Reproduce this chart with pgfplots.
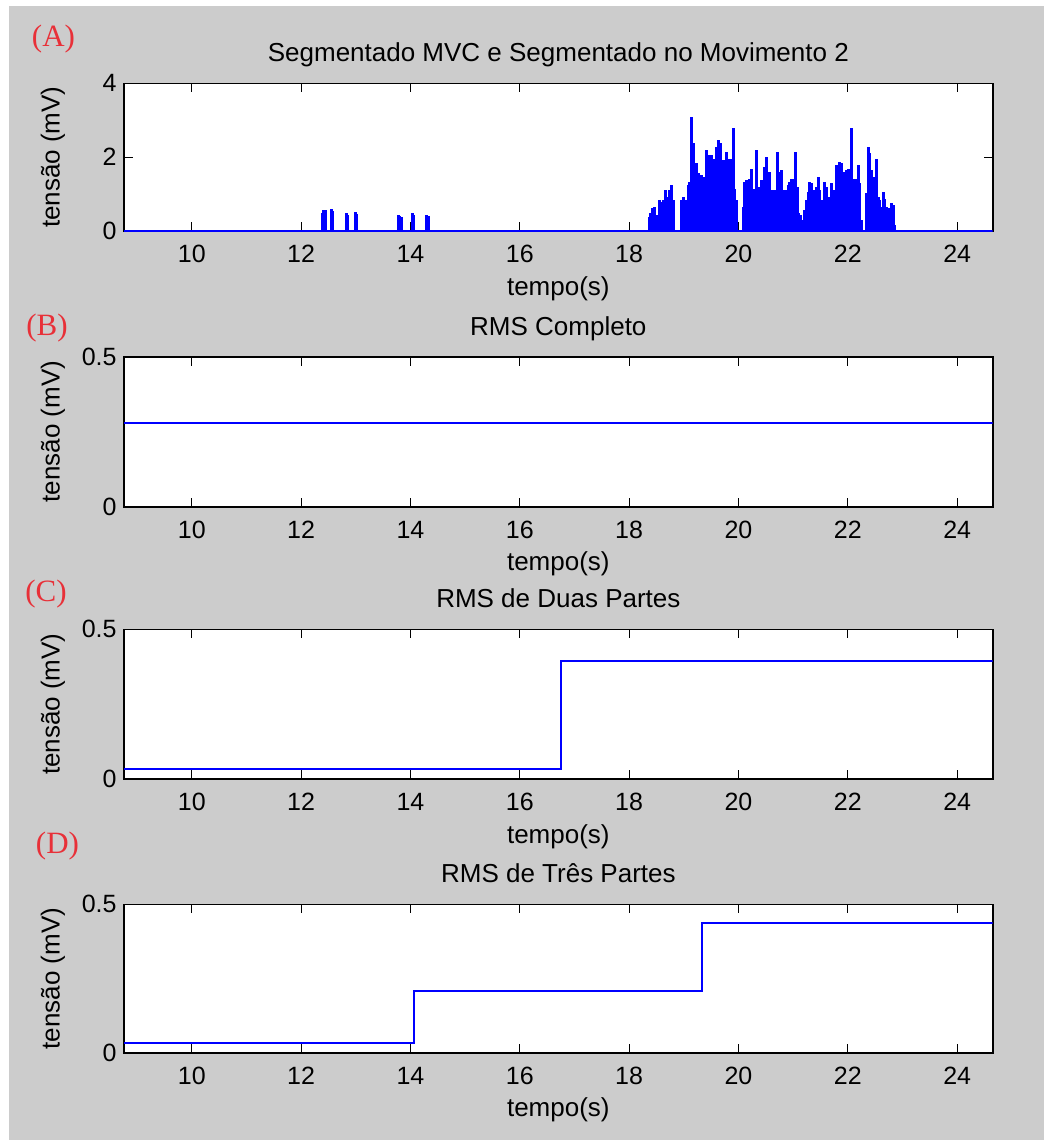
\documentclass[border=0pt]{standalone}
\usepackage{fontspec}
\setmainfont{Liberation Sans}
\newfontfamily\panelfont{Liberation Serif}
\usepackage{pgfplots}
\pgfplotsset{compat=1.18}
\usepackage{pgfplotstable}

\definecolor{figbg}{RGB}{204,204,204}
\definecolor{panelred}{RGB}{232,48,56}
\definecolor{sigblue}{RGB}{0,0,255}

% EMG envelope of the movement segment: time (s) and amplitude (mV)
\pgfplotstableread{
x y
12.40 0.50
12.42 0.56
12.44 0.58
12.56 0.60
12.58 0.55
12.83 0.50
12.85 0.44
13.00 0.52
13.02 0.45
13.78 0.43
13.80 0.40
13.83 0.38
14.04 0.50
14.06 0.44
14.30 0.44
14.32 0.40
18.368 0.39
18.398 0.48
18.429 0.61
18.459 0.66
18.490 0.43
18.520 0.34
18.551 0.84
18.593 0.79
18.636 0.84
18.672 1.11
18.715 0.93
18.746 1.11
18.776 1.24
18.807 0.84
18.959 0.84
18.989 0.93
19.032 0.84
19.081 1.24
19.111 1.33
19.142 3.10
19.172 2.37
19.203 1.78
19.233 1.83
19.264 1.56
19.294 1.11
19.325 1.51
19.355 1.38
19.386 1.47
19.416 2.19
19.446 2.05
19.477 1.65
19.507 2.05
19.538 1.96
19.568 1.74
19.599 2.28
19.629 2.46
19.660 2.37
19.690 1.74
19.721 1.92
19.751 1.65
19.782 2.14
19.812 1.65
19.843 1.96
19.873 1.56
19.904 2.78
19.934 1.15
19.965 0.84
20.086 0.66
20.117 1.33
20.147 1.38
20.178 1.33
20.208 1.42
20.239 1.69
20.269 1.15
20.300 0.93
20.330 2.19
20.361 0.75
20.391 1.20
20.422 1.38
20.452 1.20
20.483 1.74
20.513 2.00
20.544 1.02
20.574 1.60
20.604 1.11
20.635 0.97
20.665 1.11
20.708 2.14
20.745 1.60
20.787 1.65
20.818 1.11
20.848 1.11
20.879 1.11
20.909 1.24
20.940 1.33
20.970 1.42
21.001 1.02
21.031 1.42
21.049 2.14
21.074 1.20
21.104 0.48
21.135 0.43
21.165 0.30
21.214 0.57
21.244 0.84
21.275 1.06
21.305 1.33
21.336 1.29
21.366 1.11
21.397 0.84
21.427 1.20
21.458 1.47
21.488 1.11
21.519 0.84
21.549 0.61
21.580 1.33
21.610 1.20
21.641 0.84
21.671 0.93
21.702 1.29
21.732 1.06
21.763 1.11
21.793 1.78
21.823 1.29
21.854 1.87
21.884 1.83
21.915 1.42
21.945 1.60
21.976 1.65
22.006 1.69
22.037 1.56
22.067 2.78
22.098 1.42
22.128 1.38
22.159 1.42
22.189 1.78
22.220 1.29
22.250 0.30
22.342 1.02
22.372 2.28
22.403 2.10
22.433 1.65
22.463 1.47
22.494 1.29
22.524 1.96
22.555 0.93
22.585 0.84
22.616 0.66
22.646 1.06
22.677 0.88
22.707 0.66
22.738 0.61
22.768 0.57
22.799 0.75
22.829 0.70
22.847 0.16
}\emgdata

\pgfplotsset{
  panel/.style={
    scale only axis,
    width=434.35pt,
    xmin=8.76, xmax=24.65,
    xtick={10,12,...,24},
    axis background/.style={fill=white},
    axis line style={black, line width=0.8pt},
    tick style={black, line width=0.6pt},
    major tick length=4.5pt,
    tick align=inside,
    xtick pos=both, ytick pos=both,
    font=\fontsize{13}{15}\selectfont,
    tick label style={font=\fontsize{12.5}{14}\selectfont},
    /pgf/number format/assume math mode=true,
    xticklabel style={anchor=base, inner sep=0pt, yshift=-15.8pt},
    yticklabel style={anchor=east, inner sep=0pt, xshift=-3.5pt},
    xlabel={tempo(s)},
    ylabel={tensão (mV)},
    xlabel style={at={([yshift=-32pt]axis description cs:0.5,0)}, anchor=base, inner sep=0pt},
    ylabel style={at={([xshift=-35.5pt]axis description cs:0,0.5)}, anchor=center, rotate=0, inner sep=0pt},
    every axis title shift=0pt,
    title style={at={([yshift=10.8pt]axis description cs:0.5,1)}, anchor=base, inner sep=0pt},
    every axis plot/.append style={sigblue, line width=1pt, mark=none},
    clip=true,
  },
  rmspanel/.style={
    panel,
    ymin=0, ymax=0.5,
    ytick={0,0.5},
    yticklabels={0,0.5},
  },
}

\begin{document}
\begin{tikzpicture}
  \useasboundingbox (0,0) rectangle (522pt,-570pt);
  \fill[white] (0,0) rectangle (522pt,-570pt);
  \fill[figbg] (4.5pt,-3pt) rectangle (522pt,-570pt);

  % (A) segmented signal
  \begin{axis}[panel,
      at={(62pt,-41.65pt)}, anchor=north west,
      height=73.85pt,
      ymin=0, ymax=4, ytick={0,2,4},
      title={Segmentado MVC e Segmentado no Movimento 2}]
    \addplot[ycomb, sigblue, line width=1.6pt, mark=none] table[x=x, y=y] {\emgdata};
    \addplot[sigblue, line width=1.1pt, mark=none] coordinates {(8.76,0) (24.65,0)};
  \end{axis}

  % (B) RMS over the whole record
  \begin{axis}[rmspanel,
      at={(62pt,-178.35pt)}, anchor=north west,
      height=75pt,
      title={RMS Completo}]
    \addplot[sigblue, line width=1pt, mark=none] coordinates {(8.76,0.28) (24.65,0.28)};
  \end{axis}

  % (C) RMS in two parts
  \begin{axis}[rmspanel,
      at={(62pt,-314.65pt)}, anchor=north west,
      height=74.85pt,
      title={RMS de Duas Partes}]
    \addplot[const plot, sigblue, line width=1pt, mark=none] coordinates {(8.76,0.033) (16.75,0.393) (24.65,0.393)};
  \end{axis}

  % (D) RMS in three parts
  \begin{axis}[rmspanel,
      at={(62pt,-452.15pt)}, anchor=north west,
      height=74.2pt,
      title={RMS de Três Partes}]
    \addplot[const plot, sigblue, line width=1pt, mark=none] coordinates {(8.76,0.033) (14.06,0.208) (19.34,0.438) (24.65,0.438)};
  \end{axis}

  % panel letters
  \begin{scope}[every node/.style={font=\panelfont\fontsize{15.5}{17}\selectfont, text=panelred, inner sep=0pt}]
    \node at (26.75pt,-19.5pt) {(A)};
    \node at (23.5pt,-164pt) {(B)};
    \node at (23pt,-297pt) {(C)};
    \node at (28.75pt,-423.25pt) {(D)};
  \end{scope}
\end{tikzpicture}
\end{document}
